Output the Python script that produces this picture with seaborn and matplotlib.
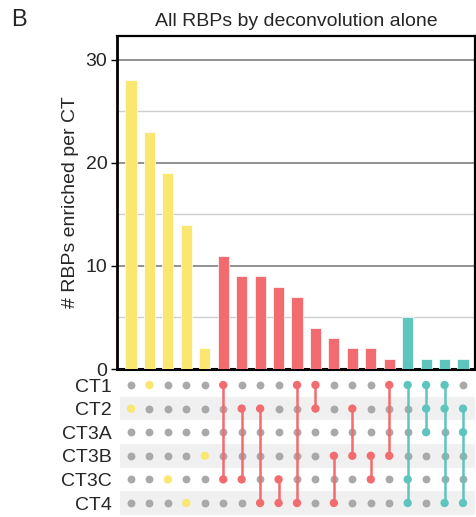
import matplotlib
matplotlib.use("Agg")
import matplotlib.pyplot as plt
import seaborn as sns
import pandas as pd
import numpy as np

sns.set_theme(style="white")
plt.rcParams['font.family'] = ['Liberation Sans', 'DejaVu Sans']

# ---- data ----
rows = ["CT1", "CT2", "CT3A", "CT3B", "CT3C", "CT4"]
counts = [28, 23, 19, 14, 2, 11, 9, 9, 8, 7, 4, 3, 2, 2, 1, 5, 1, 1, 1]
degree = ["1", "1", "1", "1", "1", "2", "2", "2", "2", "2", "2", "2", "2", "2", "2", "3", "3", "3", "3"]
members = [
    ["CT2"], ["CT1"], ["CT3C"], ["CT4"], ["CT3B"],
    ["CT1", "CT3C"], ["CT2", "CT3C"], ["CT2", "CT4"], ["CT3C", "CT4"], ["CT1", "CT4"],
    ["CT1", "CT2"], ["CT3B", "CT4"], ["CT2", "CT3B"], ["CT3B", "CT3C"], ["CT1", "CT3B"],
    ["CT1", "CT3C", "CT4"], ["CT1", "CT2", "CT3A"], ["CT1", "CT2", "CT4"], ["CT2", "CT3A", "CT4"],
]
palette = {"1": "#FBE66F", "2": "#F26B6E", "3": "#5EC4BE"}
grey_dot = "#A9A9A9"

W, H = 476, 517
fig = plt.figure(figsize=(W / 100, H / 100), dpi=100)

x0, x1 = 117, 475
ax = fig.add_axes([x0 / W, (H - 369) / H, (x1 - x0) / W, (369 - 36) / H])
axm = fig.add_axes([x0 / W, (H - 514.8) / H, (x1 - x0) / W, 141.6 / H])

n = len(counts)
df = pd.DataFrame({"col": [str(i) for i in range(n)], "count": counts, "degree": degree})
sns.barplot(data=df, x="col", y="count", hue="degree", palette=palette, dodge=False,
            width=0.6, ax=ax, legend=False, saturation=1, edgecolor="white", linewidth=0.5, zorder=3)

fs = 14
ax.set_xlim(-0.76, n - 1 + 0.65)
ax.set_ylim(0, 32.3)
ax.set_xticks([])
ax.set_xlabel("")
ax.set_yticks([0, 10, 20, 30])
ax.set_yticklabels(["0", "10", "20", "30"], fontsize=fs)
ax.set_yticks([5, 15, 25], minor=True)
ax.tick_params(axis="y", which="major", left=True, length=4, width=1, color="black", pad=3)
ax.tick_params(axis="y", which="minor", left=False)
ax.grid(axis="y", which="major", color="#7F7F7F", linewidth=1.2, zorder=0)
ax.grid(axis="y", which="minor", color="#CFCFCF", linewidth=1.0, zorder=0)
ax.set_axisbelow(True)
for s in ax.spines.values():
    s.set_visible(True)
    s.set_color("black")
    s.set_linewidth(1.6)
ax.spines["left"].set_linewidth(2)
ax.spines["bottom"].set_linewidth(2.2)
ax.set_ylabel("# RBPs enriched per CT", fontsize=fs, labelpad=5)
ax.set_title("All RBPs by deconvolution alone", fontsize=fs, pad=7)

# ---- matrix ----
axm.set_xlim(ax.get_xlim())
axm.set_ylim(len(rows) - 0.5, -0.5)
for i in range(len(rows)):
    if i % 2 == 1:
        axm.axhspan(i - 0.5, i + 0.5, xmin=(3 / (x1 - x0)), xmax=1, color="#F0F0F0", zorder=0, lw=0)

recs = []
for j in range(n):
    for i, r in enumerate(rows):
        recs.append({"x": j, "y": i, "on": r in members[j], "deg": degree[j]})
mdf = pd.DataFrame(recs)
off = mdf[~mdf["on"]]
on = mdf[mdf["on"]]
sns.scatterplot(data=off, x="x", y="y", color=grey_dot, s=32, linewidth=0, ax=axm, zorder=2, legend=False)
for j in range(n):
    ys = [rows.index(r) for r in members[j]]
    if len(ys) > 1:
        axm.plot([j, j], [min(ys), max(ys)], color=palette[degree[j]], lw=1.8, zorder=3,
                 solid_capstyle="butt")
sns.scatterplot(data=on, x="x", y="y", hue="deg", palette=palette, s=36, linewidth=0,
                ax=axm, zorder=4, legend=False)
axm.set_ylim(len(rows) - 0.5, -0.5)
axm.set_xticks([])
axm.set_xlabel("")
axm.set_ylabel("")
axm.set_yticks(range(len(rows)))
axm.set_yticklabels(rows, fontsize=fs)
axm.tick_params(axis="y", length=0, pad=4)
for s in axm.spines.values():
    s.set_visible(False)

fig.text(11 / W, 1 - 20 / H, "B", fontsize=17, va="center", ha="left")

fig.savefig("out.png", dpi=100)
